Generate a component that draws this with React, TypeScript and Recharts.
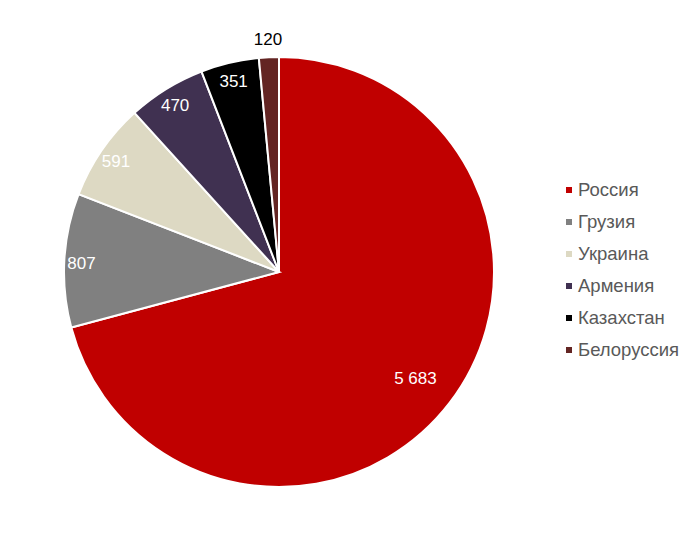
import { PieChart, Pie, Cell, Legend } from "recharts";

const countries = ["Россия", "Грузия", "Украина", "Армения", "Казахстан", "Белоруссия"];
const values = [5683, 807, 591, 470, 351, 120];
const colors = ["#C00000", "#808080", "#DDD9C3", "#403151", "#000000", "#632523"];

const data = countries.map((name, i) => ({ name, value: values[i] }));

const RADIAN = Math.PI / 180;

const fmt = (v: number) => String(v).replace(/\B(?=(\d{3})+(?!\d))/g, " ");

// eslint-disable-next-line @typescript-eslint/no-explicit-any
const renderLabel = (props: any) => {
  const { cx, cy, midAngle, outerRadius, percent, value } = props;
  let k = 0.92;
  if (percent > 0.5) k = 0.8;
  if (percent < 0.02) k = 1.09;
  const r = outerRadius * k;
  const x = cx + r * Math.cos(-midAngle * RADIAN);
  const y = cy + r * Math.sin(-midAngle * RADIAN) + 2;
  return (
    <text
      x={x}
      y={y}
      fill={percent < 0.02 ? "#000000" : "#ffffff"}
      fontSize={17}
      textAnchor="middle"
      dominantBaseline="central"
      fontFamily="'Liberation Sans', Arial, sans-serif"
    >
      {fmt(value)}
    </text>
  );
};

function LegendContent() {
  return (
    <div style={{ fontFamily: "'Liberation Sans', Arial, sans-serif", fontSize: 18.5, color: "#595959" }}>
      {countries.map((c, i) => (
        <div key={c} style={{ display: "flex", alignItems: "center", height: 32 }}>
          <span style={{ width: 6, height: 6, background: colors[i], marginRight: 6 }} />
          <span>{c}</span>
        </div>
      ))}
    </div>
  );
}

export default function App() {
  return (
    <div style={{ margin: -8, background: "#fff", width: 700, height: 542 }}>
      <PieChart width={700} height={542}>
        <Pie
          data={data}
          dataKey="value"
          nameKey="name"
          cx={274}
          cy={267}
          outerRadius={215}
          startAngle={90}
          endAngle={-270}
          stroke="#ffffff"
          strokeWidth={2}
          label={renderLabel}
          labelLine={false}
          isAnimationActive={false}
        >
          {data.map((d, i) => (
            <Cell key={d.name} fill={colors[i]} />
          ))}
        </Pie>
        <Legend
          layout="vertical"
          content={<LegendContent />}
          wrapperStyle={{ left: 566, top: 174, width: 130 }}
        />
      </PieChart>
    </div>
  );
}
